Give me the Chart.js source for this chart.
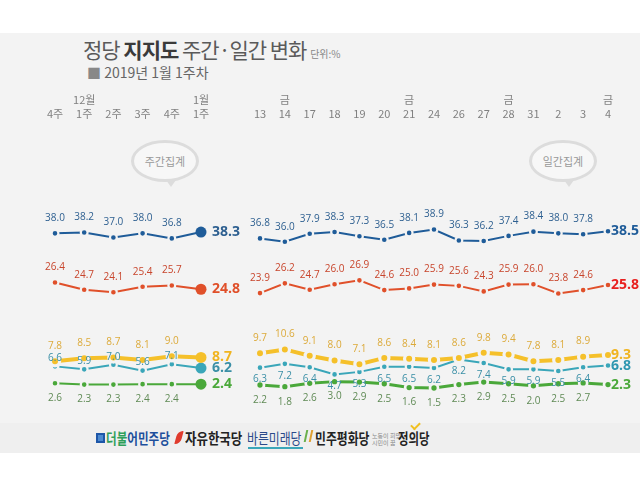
<!DOCTYPE html>
<html>
<head>
<meta charset="utf-8">
<script src="https://cdn.jsdelivr.net/npm/chart.js@4"></script>
<style>
  html, body { margin: 0; padding: 0; background: #fff; }
  #page { position: relative; width: 640px; height: 484px; overflow: hidden; font-family: "Noto Sans CJK KR", "Noto Sans", sans-serif; }
  #panel { position: absolute; left: 0; top: 33px; width: 640px; height: 420px; background: #f3f3f3; }
  #band { position: absolute; left: 0; top: 423px; width: 640px; height: 30px; background: #efefef; }
  #title { position: absolute; left: 83px; top: 34px; font-size: 21px; color: #5a5a5a; letter-spacing: -1px; white-space: nowrap; }
  #title b { color: #3a3a3a; }
  #title small { font-size: 10px; color: #888; letter-spacing: 0; }
  #sub { position: absolute; left: 87px; top: 62px; font-size: 14px; color: #666; white-space: nowrap; }
  #sub span { color: #888; }
  .bubble { position: absolute; width: 62px; height: 36px; border: 3px solid #dcdcdc; border-radius: 50%; background: #f7f7f7;
            font-size: 11px; color: #999; text-align: center; line-height: 36px; }
  .bubble:after { content: ""; position: absolute; left: 32px; top: 37px; border-left: 5px solid transparent; border-right: 5px solid transparent; border-top: 7px solid #dcdcdc; }
  canvas { position: absolute; }
  .logo { position: absolute; top: 428px; font-size: 15px; line-height: 20px; font-weight: 700; white-space: nowrap; transform-origin: 0 50%; }
  .ico { position: absolute; }
</style>
</head>
<body>
<div id="page">
  <div id="panel"></div>
  <div id="band"></div>
  <div id="title">정당 <b>지지도</b> 주간·일간 변화 <small>단위:%</small></div>
  <div id="sub"><span>■</span> 2019년 1월 1주차</div>
  <div class="bubble" style="left:131px; top:140px;">주간집계</div>
  <div class="bubble" style="left:529px; top:140px;">일간집계</div>
  <canvas id="weekChart" style="left:0; top:80px;" width="240" height="334"></canvas>
  <canvas id="dayChart" style="left:240px; top:80px;" width="400" height="334"></canvas>

  <div class="ico" style="left:96px; top:433px; width:5px; height:6px; border:2px solid #1d56a8; background:#4d8ad0;"></div>
  <div class="logo" style="left:106px; transform:scaleX(0.77);"><span style="color:#2ea05a">더불</span><span style="color:#1d4f9c">어민주당</span></div>
  <div class="ico" style="left:176px; top:431px; width:6px; height:13px; background:#e03b2e; border-radius:6px 1px 6px 1px; transform:skewX(-15deg);"></div>
  <div class="logo" style="left:185px; color:#222; transform:scaleX(0.83);">자유한국당</div>
  <div class="logo" style="left:247px; color:#2a4a8a; font-weight:400; transform:scaleX(0.79);">바른미래당</div>
  <div class="ico" style="left:248px; top:447px; width:55px; height:2px; background:#3aa6b9;"></div>
  <div class="ico" style="left:305px; top:430px; width:3px; height:12px; border-left:2px solid #6ab04c; border-right:2px solid #e0a030; transform:skewX(-12deg);"></div>
  <div class="logo" style="left:315px; color:#222; transform:scaleX(0.79);">민주평화당</div>
  <div class="logo" style="left:372px; top:432px; font-size:6px; line-height:7px; color:#888; font-weight:400;">노동이 희망<br>시민이 꿈</div>
  <div class="logo" style="left:398px; color:#222; transform:scaleX(0.76);">정의당</div>
  <div class="ico" style="left:411px; top:422px; width:7px; height:4px; border-left:2px solid #f0c020; border-bottom:2px solid #f0c020; transform:rotate(-45deg);"></div>
</div>
<script>
// x categories
const weekLabels = [['', '4주'], ['12월', '1주'], ['', '2주'], ['', '3주'], ['', '4주'], ['1월', '1주']];
const dayLabels = [['', '13'], ['금', '14'], ['', '17'], ['', '18'], ['', '19'], ['', '20'], ['금', '21'], ['', '24'],
                   ['', '26'], ['', '27'], ['금', '28'], ['', '31'], ['', '2'], ['', '3'], ['금', '4']];

// weekly values
const weekMinjoo = [38.0, 38.2, 37.0, 38.0, 36.8, 38.3];
const weekHankook = [26.4, 24.7, 24.1, 25.4, 25.7, 24.8];
const weekJustice = [7.8, 8.5, 8.7, 8.1, 9.0, 8.7];
const weekBareun = [6.6, 5.9, 7.0, 5.6, 7.1, 6.2];
const weekPeace = [2.6, 2.3, 2.3, 2.4, 2.4, 2.4];

// daily values
const dayMinjoo = [36.8, 36.0, 37.9, 38.3, 37.3, 36.5, 38.1, 38.9, 36.3, 36.2, 37.4, 38.4, 38.0, 37.8, 38.5];
const dayHankook = [23.9, 26.2, 24.7, 26.0, 26.9, 24.6, 25.0, 25.9, 25.6, 24.3, 25.9, 26.0, 23.8, 24.6, 25.8];
const dayJustice = [9.7, 10.6, 9.1, 8.0, 7.1, 8.6, 8.4, 8.1, 8.6, 9.8, 9.4, 7.8, 8.1, 8.9, 9.3];
const dayBareun = [6.3, 7.2, 6.4, 4.7, 5.3, 6.5, 6.5, 6.2, 8.2, 7.4, 5.9, 5.9, 5.5, 6.4, 6.8];
const dayPeace = [2.2, 1.8, 2.6, 3.0, 2.9, 2.5, 1.6, 1.5, 2.3, 2.9, 2.5, 2.0, 2.5, 2.7, 2.3];

const bg = '#f3f3f3';

// draws the value above/below each point, and the bold last value to the right
const valueLabels = {
  id: 'valueLabels',
  afterDatasetsDraw(chart) {
    const ctx = chart.ctx;
    const opts = chart.options.plugins.valueLabels;
    chart.data.datasets.forEach((ds, i) => {
      const meta = chart.getDatasetMeta(i);
      meta.data.forEach((pt, j) => {
        const txt = ds.data[j].toFixed(1);
        ctx.save();
        ctx.textBaseline = 'middle';
        if (j === ds.data.length - 1) {
          ctx.fillStyle = ds.endColor || ds.labelColor;
          ctx.font = 'bold 14px "Open Sans"';
          ctx.textAlign = 'left';
          ctx.fillText(txt, pt.x + opts.endGap, pt.y);
        } else {
          ctx.fillStyle = ds.labelColor;
          ctx.font = '10px "Open Sans"';
          ctx.textAlign = 'center';
          ctx.fillText(txt, pt.x, pt.y + ds.labelOffset);
        }
        ctx.restore();
      });
    });
  }
};

function series(label, data, color, labelColor, width, offset, bigLast, endColor) {
  const last = data.length - 1;
  return {
    label, data,
    borderColor: color,
    borderWidth: width,
    backgroundColor: color,
    pointBackgroundColor: color,
    pointRadius: c => (bigLast && c.dataIndex === last) ? 5.5 : 2.2 + width * 0.6,
    pointBorderWidth: c => (bigLast && c.dataIndex === last) ? 0 : 1.2 + width * 0.5,
    pointBorderColor: bg,
    tension: 0,
    clip: false,
    labelColor,
    endColor,
    labelOffset: offset
  };
}

function makeChart(id, labels, sets, padL, padR, endGap) {
  return new Chart(document.getElementById(id), {
    type: 'line',
    data: { labels, datasets: sets },
    options: {
      responsive: false,
      animation: false,
      layout: { padding: { left: padL, right: padR, top: 0, bottom: 0 } },
      scales: {
        x: {
          position: 'top',
          offset: false,
          grid: { display: false, drawTicks: false },
          border: { display: false },
          ticks: { color: '#808080', font: { size: 11, family: '"Noto Sans CJK KR"' }, padding: 0, maxRotation: 0, autoSkip: false },
          afterFit: s => { s.height = 40; }
        },
        y: { display: false, min: -2.8, max: 64.75 }
      },
      plugins: {
        legend: { display: false },
        tooltip: { enabled: false },
        valueLabels: { endGap }
      }
    },
    plugins: [valueLabels]
  });
}

makeChart('weekChart', weekLabels, [
  series('더불어민주당', weekMinjoo, '#1f5c99', '#2d5f90', 2, -15, true),
  series('자유한국당', weekHankook, '#e0502a', '#c8452c', 2, -15, true, '#e0502a'),
  series('정의당', weekJustice, '#f5c02a', '#dcaa3a', 4, -15, true, '#f0b420'),
  series('바른미래당', weekBareun, '#3aa6b9', '#3a8fa6', 2, -8, true),
  series('민주평화당', weekPeace, '#4aa83a', '#5f8a55', 2, 15, true, '#4aa83a')
], 55, 39, 11);

makeChart('dayChart', dayLabels, [
  series('더불어민주당', dayMinjoo, '#1f5c99', '#2d5f90', 2, -15, false, '#1f5c99'),
  series('자유한국당', dayHankook, '#e0502a', '#c8452c', 2, -15, false, '#e8201f'),
  series('정의당', dayJustice, '#f5c02a', '#dcaa3a', 4, -15, false, '#f0b420'),
  series('바른미래당', dayBareun, '#3aa6b9', '#3a8fa6', 2, 12, false, '#2f97b0'),
  series('민주평화당', dayPeace, '#4aa83a', '#5f8a55', 3, 15, false, '#4aa83a')
], 20, 32, 3);
</script>
</body>
</html>
